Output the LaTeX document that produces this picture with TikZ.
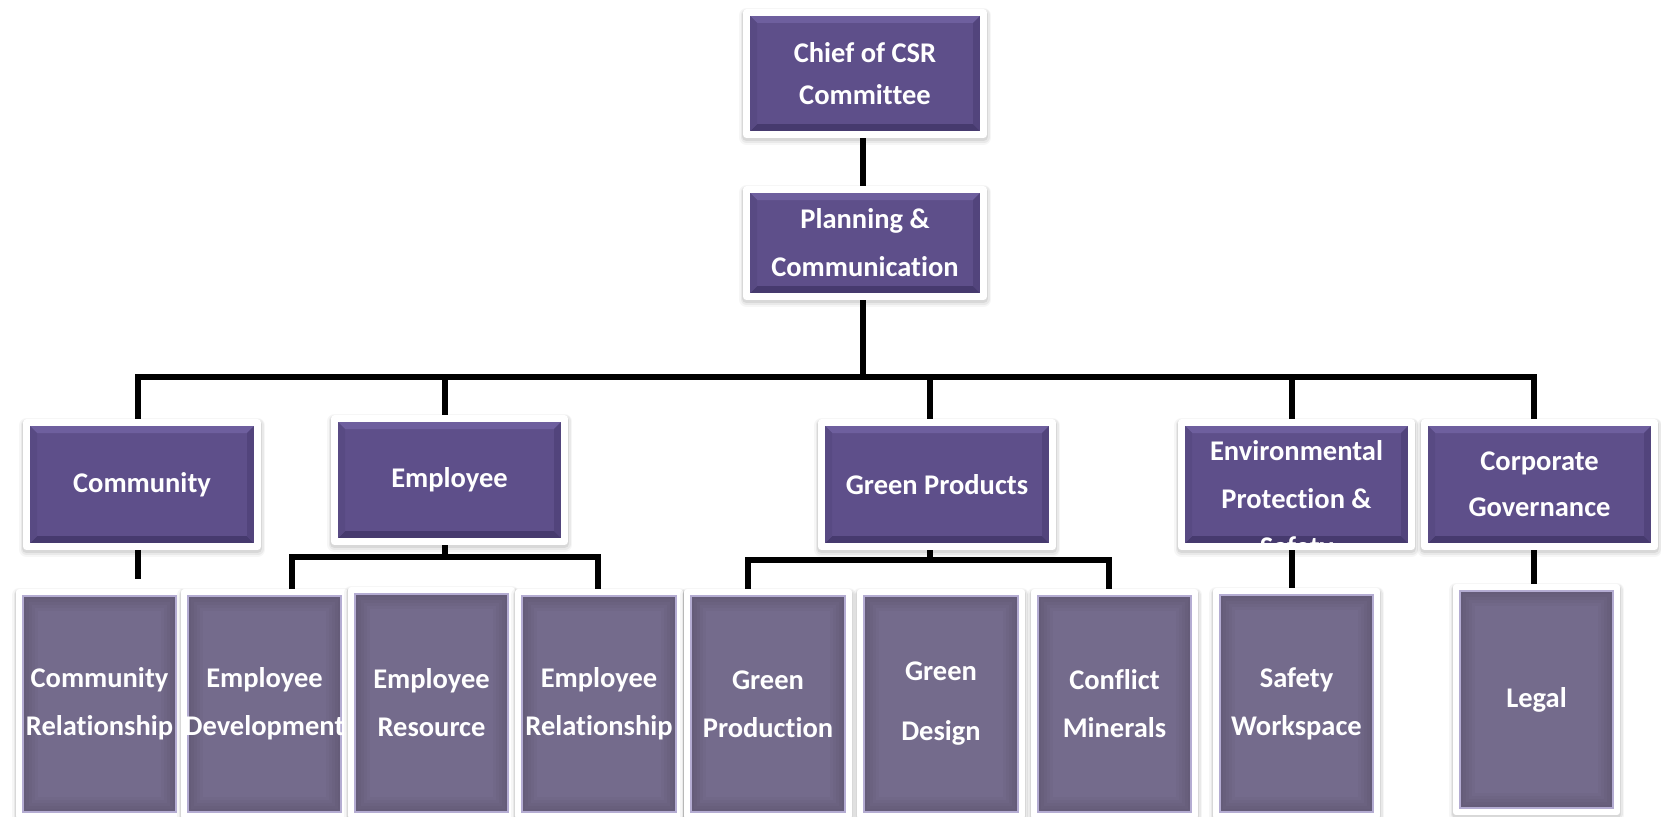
\documentclass[tikz,border=0pt]{standalone}
\usepackage{fontspec}
\setmainfont[Ligatures=NoCommon]{Carlito}
\pgfdeclarelayer{background}
\pgfdeclarelayer{backback}
\pgfsetlayers{backback,background,main}
\definecolor{purp}{RGB}{94,79,138}
\definecolor{purplt}{RGB}{110,95,158}
\definecolor{purpdk}{RGB}{70,58,110}
\definecolor{purpl}{RGB}{88,74,131}
\definecolor{purpr}{RGB}{82,68,124}
\definecolor{gpurp}{RGB}{116,107,140}
\definecolor{lav}{RGB}{180,172,210}
\tikzset{
  boxfont/.style={font=\bfseries\fontsize{28.5}{48}\selectfont},
  softshadow/.style={
    preaction={draw=black, line join=round, line width=#1+8pt, opacity=0.035, transform canvas={yshift=-3pt}},
    preaction={draw=black, line join=round, line width=#1+5pt, opacity=0.05, transform canvas={yshift=-2.5pt}},
    preaction={draw=black, line join=round, line width=#1+2.5pt, opacity=0.07, transform canvas={yshift=-2pt}}},
  topbox/.style={rectangle, fill=purp, draw=white, line width=7pt, line join=round,
    inner sep=0pt, text=white, align=center, boxfont, softshadow=7pt,
    path picture={
      \def\bvw{10.5pt}
      \fill[purplt] (path picture bounding box.north west) -- (path picture bounding box.north east)
        -- ([xshift=-\bvw,yshift=-\bvw]path picture bounding box.north east)
        -- ([xshift=\bvw,yshift=-\bvw]path picture bounding box.north west) -- cycle;
      \fill[purpdk] (path picture bounding box.south west) -- (path picture bounding box.south east)
        -- ([xshift=-\bvw,yshift=\bvw]path picture bounding box.south east)
        -- ([xshift=\bvw,yshift=\bvw]path picture bounding box.south west) -- cycle;
      \fill[purpl] (path picture bounding box.north west) -- (path picture bounding box.south west)
        -- ([xshift=\bvw,yshift=\bvw]path picture bounding box.south west)
        -- ([xshift=\bvw,yshift=-\bvw]path picture bounding box.north west) -- cycle;
      \fill[purpr] (path picture bounding box.north east) -- (path picture bounding box.south east)
        -- ([xshift=-\bvw,yshift=\bvw]path picture bounding box.south east)
        -- ([xshift=-\bvw,yshift=-\bvw]path picture bounding box.north east) -- cycle;
    }},
  botbox/.style={rectangle, fill=gpurp, draw=white, line width=6pt, line join=round,
    inner sep=0pt, text=white, align=center, boxfont, softshadow=6pt,
    path picture={
      \foreach \w in {14,20,26,32,38}{
        \draw[black, opacity=0.022, line width=\w pt] (path picture bounding box.north west) rectangle (path picture bounding box.south east);}
      \draw[lav, line width=10pt] (path picture bounding box.north west) rectangle (path picture bounding box.south east);
    }},
  boxtext/.style={inner sep=0pt, text=white, align=center, boxfont},
  conn/.style={draw=black, line width=6pt, line join=miter}
}
\begin{document}
\begin{tikzpicture}[x=1pt,y=-1pt]
\useasboundingbox (0,0) rectangle (1661,816);
\begin{pgfonlayer}{backback}
\fill[white] (0,0) rectangle (1661,816);
\end{pgfonlayer}

% level 0 and 1
\node[topbox, minimum width=237pt, minimum height=122pt, font=\bfseries\fontsize{28.5}{42}\selectfont] (chief) at (865,73.5) {Chief of CSR\\Committee};
\node[topbox, minimum width=237pt, minimum height=107pt] (planning) at (865,243) {Planning \&\\Communication};

% level 2
\node[topbox, minimum width=231pt, minimum height=124pt] (comm) at (142,484.5) {Community};
\node[topbox, minimum width=230pt, minimum height=123pt] (emp) at (449.5,480) {Employee};
\node[topbox, minimum width=231pt, minimum height=124pt] (green) at (937,484.5) {Green Products};
\node[topbox, minimum width=230pt, minimum height=124pt] (env) at (1296.5,484.5) {};
\begin{scope}
  \clip (1185,426) rectangle (1408,543);
  \node[boxtext] (envtext) at (1296.5,501) {Environmental\\Protection \&\\Safety};
\end{scope}
\node[topbox, minimum width=230pt, minimum height=124pt, font=\bfseries\fontsize{28.5}{46}\selectfont] (corp) at (1539.5,484.5) {Corporate\\Governance};

% level 3
\node[botbox, minimum width=161pt, minimum height=224pt] (commrel) at (99.5,704) {Community\\Relationship};
\node[botbox, minimum width=161pt, minimum height=224pt] (empdev) at (264.5,704) {Employee\\Development};
\node[botbox, minimum width=161pt, minimum height=226pt] (empres) at (431.5,703) {Employee\\Resource};
\node[botbox, minimum width=162pt, minimum height=224pt] (emprel) at (599,704) {Employee\\Relationship};
\node[botbox, minimum width=162pt, minimum height=224pt] (gprod) at (768,704) {Green\\Production};
\node[botbox, minimum width=162pt, minimum height=224pt, font=\bfseries\fontsize{28.5}{60}\selectfont] (gdesign) at (941,704) {Green\\Design};
\node[botbox, minimum width=161pt, minimum height=224pt] (conflict) at (1114.5,704) {Conflict\\Minerals};
\node[botbox, minimum width=161pt, minimum height=225pt] (safety) at (1296.5,703.5) {Safety\\Workspace};
\node[botbox, minimum width=161pt, minimum height=225pt] (legal) at (1536.5,699.5) {Legal};

% connectors
\coordinate (bar) at (0,377);
\coordinate (ebar) at (0,557);
\coordinate (gbar) at (0,560);
\coordinate (commend) at (138,579);
\begin{pgfonlayer}{background}
\draw[conn] ([xshift=-2pt]chief.south) -- ([xshift=-2pt]planning.north);
\draw[conn] ([xshift=-2pt]planning.south) -- ([xshift=-2pt]planning.south |- bar);
\draw[conn] ([xshift=-4pt]comm.north) -- ([xshift=-4pt]comm.north |- bar)
   -- ([xshift=-5.5pt]corp.north |- bar) -- ([xshift=-5.5pt]corp.north);
\draw[conn] ([xshift=-4.5pt]emp.north |- bar) -- ([xshift=-4.5pt]emp.north);
\draw[conn] ([xshift=-7pt]green.north |- bar) -- ([xshift=-7pt]green.north);
\draw[conn] ([xshift=-4.5pt]env.north |- bar) -- ([xshift=-4.5pt]env.north);

\draw[conn] ([xshift=-4pt]comm.south) -- (commend);

\draw[conn] ([xshift=-4.5pt]emp.south) -- ([xshift=-4.5pt]emp.south |- ebar);
\draw[conn] ([xshift=27.5pt]empdev.north) -- ([xshift=27.5pt]empdev.north |- ebar)
   -- ([xshift=-1pt]emprel.north |- ebar) -- ([xshift=-1pt]emprel.north);

\draw[conn] ([xshift=-7pt]green.south) -- ([xshift=-7pt]green.south |- gbar);
\draw[conn] ([xshift=-20pt]gprod.north) -- ([xshift=-20pt]gprod.north |- gbar)
   -- ([xshift=-5.5pt]conflict.north |- gbar) -- ([xshift=-5.5pt]conflict.north);

\draw[conn] ([xshift=-4.5pt]env.south) -- ([xshift=-4.5pt]safety.north);
\draw[conn] ([xshift=-5.5pt]corp.south) -- ([xshift=-5.5pt]corp.south |- legal.north);
\end{pgfonlayer}
\end{tikzpicture}
\end{document}
